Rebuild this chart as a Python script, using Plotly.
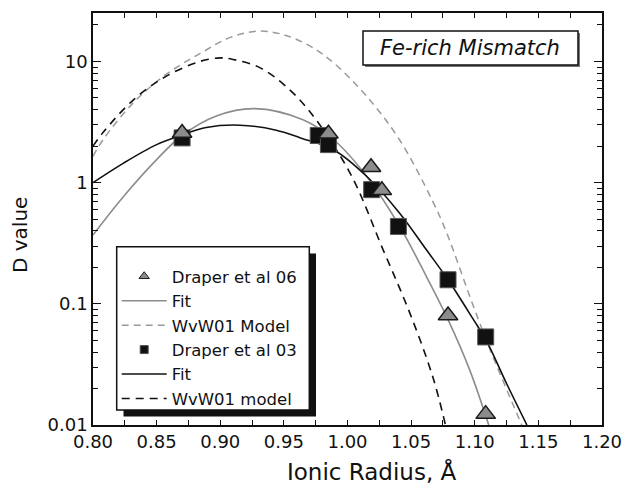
import plotly.graph_objects as go

# ---- data ----
d06_x = [0.870, 0.985, 1.0185, 1.027, 1.079, 1.1086]
d06_y = [2.57, 2.53, 1.34, 0.864, 0.080, 0.0123]

d03_x = [0.870, 0.977, 0.985, 1.019, 1.040, 1.079, 1.1086]
d03_y = [2.34, 2.45, 2.06, 0.875, 0.435, 0.158, 0.0533]

fit06_x = [0.800, 0.824, 0.850, 0.870, 0.897, 0.927, 0.965, 0.989, 1.015, 1.041, 1.062, 1.079, 1.096, 1.111]
fit06_y = [0.37, 0.77, 1.55, 2.45, 3.55, 4.08, 3.3, 2.27, 1.13, 0.435, 0.168, 0.074, 0.0285, 0.01]

wvw06_x = [0.800, 0.808, 0.832, 0.858, 0.884, 0.908, 0.931, 0.950, 0.970, 0.989, 1.015, 1.041, 1.067, 1.078, 1.099, 1.112, 1.133, 1.137]
wvw06_y = [1.65, 2.27, 4.6, 7.9, 11.6, 15.8, 17.8, 16.6, 13.5, 9.75, 5.17, 2.25, 0.70, 0.384, 0.095, 0.042, 0.0125, 0.01]

fit03_x = [0.800, 0.824, 0.850, 0.870, 0.889, 0.9155, 0.944, 0.963, 0.989, 1.015, 1.041, 1.062, 1.079, 1.099, 1.109, 1.125, 1.141]
fit03_y = [1.0, 1.45, 2.06, 2.47, 2.85, 2.98, 2.71, 2.34, 1.87, 1.13, 0.56, 0.279, 0.158, 0.074, 0.05, 0.022, 0.01]

wvw03_x = [0.800, 0.808, 0.832, 0.858, 0.884, 0.900, 0.910, 0.931, 0.950, 0.970, 1.002, 1.028, 1.049, 1.067, 1.077]
wvw03_y = [2.0, 2.6, 4.85, 7.6, 10.0, 10.7, 10.4, 8.9, 6.45, 3.9, 1.2, 0.279, 0.0838, 0.025, 0.01]

y_tickvals = [0.01, 0.1, 1, 10]
y_ticktext = ["0.01", "0.1", "1", "10"]
y_minor = [m * d for d in (0.01, 0.1, 1, 10) for m in range(2, 10) if m * d < 25]

x_title = "Ionic Radius, Å"
y_title = "D value"
panel_label = "Fe-rich Mismatch"

FONT = "DejaVu Sans"
GRAY = "#8c8c8c"
BLACK = "#111111"

W, H = 626, 486
L, R, T, B = 93, 24, 13, 61
PW, PH = W - L - R, H - T - B   # 509 x 412

# helpers: reference-image pixels -> paper coordinates
PLOT_LEFT, PLOT_BOTTOM = L, H - B


def px(xp):
    return (xp - PLOT_LEFT) / PW


def py(yp):
    return (PLOT_BOTTOM - yp) / PH


fig = go.Figure()

# curves
fig.add_trace(go.Scatter(x=fit06_x, y=fit06_y, mode="lines", name="Fit",
                         line=dict(color=GRAY, width=1.6, shape="spline"),
                         legendrank=2))
fig.add_trace(go.Scatter(x=wvw06_x, y=wvw06_y, mode="lines", name="WvW01 Model",
                         line=dict(color="#9a9a9a", width=1.5, dash="7px,5px", shape="spline"),
                         legendrank=3))
fig.add_trace(go.Scatter(x=fit03_x, y=fit03_y, mode="lines", name="Fit",
                         line=dict(color=BLACK, width=1.6, shape="spline"),
                         legendrank=5))
fig.add_trace(go.Scatter(x=wvw03_x, y=wvw03_y, mode="lines", name="WvW01 model",
                         line=dict(color=BLACK, width=1.6, dash="8px,6px", shape="spline"),
                         legendrank=6))

# data markers
fig.add_trace(go.Scatter(x=d03_x, y=d03_y, mode="markers", showlegend=False,
                         marker=dict(symbol="square", size=16, color=BLACK,
                                     line=dict(color="#555555", width=1))))
fig.add_trace(go.Scatter(x=d06_x, y=d06_y, mode="markers", showlegend=False,
                         marker=dict(symbol="triangle-up", size=17, color=GRAY,
                                     line=dict(color="#1a1a1a", width=1.5))))

# legend-only entries for marker series
fig.add_trace(go.Scatter(x=[None], y=[None], mode="markers", name="Draper et al 06",
                         marker=dict(symbol="triangle-up", size=9, color=GRAY,
                                     line=dict(color="#1a1a1a", width=1)),
                         legendrank=1))
fig.add_trace(go.Scatter(x=[None], y=[None], mode="markers", name="Draper et al 03",
                         marker=dict(symbol="square", size=8, color=BLACK,
                                     line=dict(color="#555555", width=1)),
                         legendrank=4))

shapes = [
    # legend shadow and box
    dict(type="rect", xref="paper", yref="paper", layer="below",
         x0=px(123.5), x1=px(316), y0=py(416.5), y1=py(253.5),
         fillcolor="#111111", line=dict(width=0)),
    dict(type="rect", xref="paper", yref="paper", layer="below",
         x0=px(116.7), x1=px(309.3), y0=py(410), y1=py(246.7),
         fillcolor="white", line=dict(color="#111111", width=1.5)),
    # label box shadow and box
    dict(type="rect", xref="paper", yref="paper", layer="below",
         x0=px(365), x1=px(580), y0=py(67), y1=py(33),
         fillcolor="#777777", line=dict(width=0)),
    dict(type="rect", xref="paper", yref="paper", layer="below",
         x0=px(363), x1=px(578), y0=py(65), y1=py(31),
         fillcolor="white", line=dict(color="#111111", width=1.5)),
]

annotations = [
    dict(text="<i>" + panel_label + "</i>", xref="paper", yref="paper",
         x=px(470), y=py(48), showarrow=False,
         font=dict(family=FONT, size=21, color="#111111"),
         xanchor="center", yanchor="middle"),
    dict(text=x_title, xref="paper", yref="paper",
         x=px(372), y=py(471), showarrow=False,
         font=dict(family=FONT, size=23, color="#111111"),
         xanchor="center", yanchor="middle"),
    dict(text=y_title, xref="paper", yref="paper", textangle=-90,
         x=px(20), y=py(235), showarrow=False,
         font=dict(family=FONT, size=20, color="#111111"),
         xanchor="center", yanchor="middle"),
]

fig.update_layout(
    width=W, height=H,
    margin=dict(l=L, r=R, t=T, b=B, autoexpand=False),
    paper_bgcolor="white", plot_bgcolor="white",
    font=dict(family=FONT, color="#111111"),
    shapes=shapes,
    annotations=annotations,
    showlegend=True,
    legend=dict(x=px(116.7), y=py(259), xanchor="left", yanchor="top",
                bgcolor="rgba(0,0,0,0)", borderwidth=0,
                font=dict(family=FONT, size=16.5, color="#111111"),
                itemwidth=45, traceorder="normal"),
)

fig.update_xaxes(
    automargin=False,
    range=[0.8, 1.2], dtick=0.05, tick0=0.8, tickformat=".2f",
    showgrid=False, zeroline=False,
    showline=True, linecolor="#111111", linewidth=1.5, mirror="ticks",
    ticks="inside", ticklen=5, tickwidth=1.2, tickcolor="#111111",
    minor=dict(dtick=0.025, tick0=0.8, ticks="inside", ticklen=5, tickwidth=1.2,
               tickcolor="#111111", showgrid=False),
    tickfont=dict(family=FONT, size=18),
)

fig.update_yaxes(
    automargin=False,
    type="log", range=[-2, 1.4],
    tickvals=y_tickvals, ticktext=y_ticktext,
    showgrid=False, zeroline=False,
    showline=True, linecolor="#111111", linewidth=1.5, mirror="ticks",
    ticks="inside", ticklen=8, tickwidth=1.2, tickcolor="#111111",
    minor=dict(tickvals=y_minor, ticks="inside", ticklen=5, tickwidth=1.2,
               tickcolor="#111111", showgrid=False),
    tickfont=dict(family=FONT, size=18),
)

fig.write_html(
    "out.html",
    config={"displayModeBar": False},
    post_script="document.body.style.margin='0';document.body.style.overflow='hidden';",
)
